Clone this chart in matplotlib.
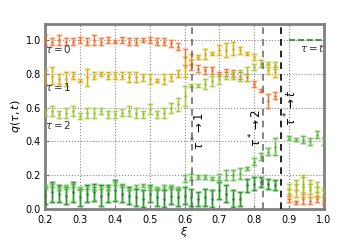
import numpy as np
import matplotlib.pyplot as plt

# xi grid for the main region (0.20 .. 0.86)
xi_lo = [0.20, 0.22, 0.24, 0.26, 0.28, 0.30, 0.32, 0.34, 0.36, 0.38, 0.40, 0.42,
         0.44, 0.46, 0.48, 0.50, 0.52, 0.54, 0.56, 0.58, 0.60, 0.62, 0.64, 0.66,
         0.68, 0.70, 0.72, 0.74, 0.76, 0.78, 0.80, 0.82, 0.84, 0.86]
# xi grid after tau* -> t
xi_hi = [0.90, 0.92, 0.94, 0.96, 0.98, 1.00]

q0_lo = [1.00, 0.99, 1.00, 0.99, 0.99, 1.00, 0.99, 1.00, 0.99, 1.00, 0.99, 1.00,
         0.99, 0.99, 1.00, 1.00, 0.99, 0.99, 0.98, 0.96, 0.90, 0.85, 0.83, 0.82,
         0.82, 0.80, 0.81, 0.80, 0.79, 0.78, 0.74, 0.70, 0.64, 0.67]
e0_lo = [0.03, 0.02, 0.03, 0.02, 0.02, 0.02, 0.02, 0.03, 0.02, 0.02, 0.01, 0.02,
         0.02, 0.02, 0.01, 0.02, 0.02, 0.02, 0.02, 0.02, 0.05, 0.03, 0.02, 0.02,
         0.02, 0.01, 0.02, 0.02, 0.02, 0.02, 0.02, 0.01, 0.04, 0.02]
q0_hi = [0.06, 0.04, 0.06, 0.05, 0.06, 0.05]
e0_hi = [0.02, 0.01, 0.03, 0.02, 0.02, 0.02]

q1_lo = [0.78, 0.79, 0.77, 0.77, 0.79, 0.76, 0.78, 0.79, 0.80, 0.79, 0.79, 0.79,
         0.78, 0.78, 0.78, 0.77, 0.76, 0.77, 0.78, 0.80, 0.84, 0.89, 0.90, 0.92,
         0.92, 0.94, 0.94, 0.95, 0.94, 0.92, 0.90, 0.86, 0.82, 0.81]
e1_lo = [0.04, 0.05, 0.03, 0.04, 0.02, 0.01, 0.05, 0.02, 0.01, 0.02, 0.02, 0.02,
         0.03, 0.03, 0.02, 0.03, 0.01, 0.03, 0.02, 0.02, 0.06, 0.03, 0.01, 0.03,
         0.01, 0.03, 0.04, 0.04, 0.02, 0.01, 0.02, 0.02, 0.02, 0.03]
q1_hi = [0.09, 0.11, 0.13, 0.11, 0.10, 0.08]
e1_hi = [0.03, 0.04, 0.06, 0.04, 0.03, 0.03]

q2_lo = [0.57, 0.58, 0.56, 0.57, 0.58, 0.55, 0.57, 0.57, 0.58, 0.56, 0.56, 0.57,
         0.58, 0.57, 0.56, 0.59, 0.56, 0.57, 0.60, 0.62, 0.67, 0.73, 0.73, 0.74,
         0.76, 0.77, 0.79, 0.79, 0.79, 0.80, 0.84, 0.86, 0.86, 0.85]
e2_lo = [0.02, 0.03, 0.02, 0.03, 0.03, 0.02, 0.03, 0.03, 0.02, 0.02, 0.02, 0.02,
         0.03, 0.03, 0.02, 0.03, 0.02, 0.03, 0.03, 0.04, 0.06, 0.01, 0.01, 0.03,
         0.03, 0.03, 0.02, 0.02, 0.03, 0.04, 0.02, 0.02, 0.01, 0.02]
q2_hi = [0.12, 0.14, 0.15, 0.13, 0.13, 0.10]
e2_hi = [0.03, 0.03, 0.05, 0.04, 0.03, 0.02]

q3_lo = [0.13, 0.14, 0.12, 0.13, 0.14, 0.12, 0.13, 0.12, 0.13, 0.12, 0.15, 0.14,
         0.12, 0.13, 0.14, 0.12, 0.12, 0.13, 0.13, 0.12, 0.18, 0.19, 0.19, 0.19,
         0.18, 0.19, 0.20, 0.20, 0.21, 0.24, 0.28, 0.31, 0.34, 0.37]
e3_lo = [0.01, 0.01, 0.01, 0.01, 0.01, 0.01, 0.01, 0.01, 0.01, 0.01, 0.01, 0.01,
         0.01, 0.01, 0.01, 0.01, 0.01, 0.01, 0.01, 0.01, 0.02, 0.02, 0.01, 0.01,
         0.01, 0.02, 0.03, 0.03, 0.03, 0.01, 0.02, 0.02, 0.02, 0.05]
q3_hi = [0.42, 0.41, 0.41, 0.40, 0.44, 0.40]
e3_hi = [0.01, 0.01, 0.02, 0.02, 0.02, 0.02]

qt_lo = [0.08, 0.10, 0.09, 0.08, 0.10, 0.07, 0.09, 0.10, 0.08, 0.09, 0.11, 0.09,
         0.08, 0.07, 0.06, 0.09, 0.07, 0.06, 0.08, 0.07, 0.08, 0.07, 0.06, 0.07,
         0.06, 0.11, 0.09, 0.06, 0.06, 0.14, 0.15, 0.16, 0.15, 0.14]
et_lo = [0.05, 0.06, 0.05, 0.05, 0.06, 0.05, 0.05, 0.05, 0.06, 0.05, 0.06, 0.05,
         0.05, 0.05, 0.05, 0.05, 0.05, 0.05, 0.05, 0.05, 0.05, 0.05, 0.04, 0.05,
         0.05, 0.05, 0.05, 0.05, 0.04, 0.04, 0.04, 0.03, 0.03, 0.03]
qt_hi = [1.00, 1.00, 1.00, 1.00, 1.00, 1.00]

tau_star = [0.622, 0.826, 0.878]
tau_star_txt = [r"$\tau^* \to 1$", r"$\tau^* \to 2$", r"$\tau^* \to t$"]

colors = ["#ee6a2c", "#d4aa10", "#98c232", "#5cb34a", "#1f8a2a"]
light = ["#fad0b8", "#f1e3a6", "#dcebb4", "#bfe2b2", "#98d096"]

fig = plt.figure(figsize=(3.6, 2.4), dpi=100)
ax = fig.add_axes([0.125, 0.129, 0.775, 0.771])


def draw(xs, ys, es, k):
    ax.errorbar(xs, ys, yerr=es, fmt="none", ecolor=light[k], elinewidth=2.0,
                capsize=2.0, capthick=2.0, zorder=2)
    ax.errorbar(xs, ys, yerr=es, fmt=".", ms=1.5, color=colors[k], ecolor=colors[k],
                elinewidth=0.6, capsize=1.6, capthick=0.6, zorder=3)


draw(xi_lo, q0_lo, e0_lo, 0)
draw(xi_hi, q0_hi, e0_hi, 0)
draw(xi_lo, q1_lo, e1_lo, 1)
draw(xi_hi, q1_hi, e1_hi, 1)
draw(xi_lo, q2_lo, e2_lo, 2)
draw(xi_hi, q2_hi, e2_hi, 2)
draw(xi_lo, q3_lo, e3_lo, 3)
draw(xi_hi, q3_hi, e3_hi, 3)
draw(xi_lo, qt_lo, et_lo, 4)
ax.plot(xi_hi, qt_hi, "--", color=colors[4], lw=1.2, zorder=3)

for x, c in zip(tau_star, ["#707070", "#707070", "black"]):
    ax.axvline(x, color=c, ls=(0, (4, 3)), lw=1.2, zorder=4)

ax.text(0.643, 0.46, tau_star_txt[0], rotation=90, ha="center", va="center", fontsize=8.5)
ax.text(0.804, 0.48, tau_star_txt[1], rotation=90, ha="center", va="center", fontsize=8.5)
ax.text(0.905, 0.60, tau_star_txt[2], rotation=90, ha="center", va="center", fontsize=8.5)

ax.text(0.2, 0.95, r"$\tau=0$", fontsize=7.5, ha="left", va="center", color="#333333")
ax.text(0.2, 0.72, r"$\tau=1$", fontsize=7.5, ha="left", va="center", color="#333333")
ax.text(0.2, 0.50, r"$\tau=2$", fontsize=7.5, ha="left", va="center", color="#333333")
ax.text(0.93, 0.955, r"$\tau=t$", fontsize=7.5, ha="left", va="center", color="#333333")

ax.set_xlim(0.2, 1.0)
ax.set_ylim(0.0, 1.095)
ax.set_xticks([0.2, 0.3, 0.4, 0.5, 0.6, 0.7, 0.8, 0.9, 1.0])
ax.set_yticks([0.0, 0.2, 0.4, 0.6, 0.8, 1.0])
ax.tick_params(labelsize=7, direction="in", length=3, color="#777777")
ax.tick_params(axis="x", pad=4)
ax.tick_params(axis="y", pad=3)
ax.grid(True, ls=":", color="#888888", lw=0.8)
for s in ax.spines.values():
    s.set_color("#808080")
    s.set_linewidth(2)
ax.set_xlabel(r"$\xi$", fontsize=8, labelpad=0)
ax.set_ylabel(r"$q(\tau,t)$", fontsize=8, labelpad=2)

fig.savefig("out.png", dpi=100)
